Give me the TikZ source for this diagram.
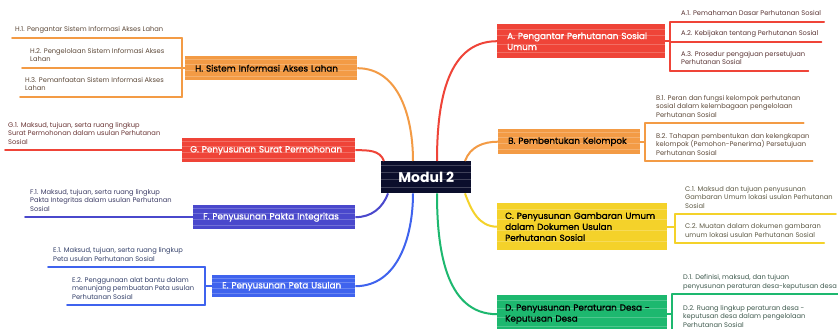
\documentclass[tikz,border=0pt]{standalone}
\usepackage{fontspec}
\setmainfont{Poppins}
\newfontfamily\brfont[FakeBold=1.2]{Poppins}
\usetikzlibrary{calc}
\definecolor{cred}{HTML}{EF4438}
\definecolor{corange}{HTML}{F39B45}
\definecolor{cyellow}{HTML}{F4D22A}
\definecolor{cgreen}{HTML}{1DB86F}
\definecolor{cblue}{HTML}{3F63EE}
\definecolor{cindigo}{HTML}{4A48CC}
\definecolor{cnavy}{HTML}{0B0E2C}
\definecolor{tA}{HTML}{5B3535}
\definecolor{tB}{HTML}{5E4A3A}
\definecolor{tC}{HTML}{5E5A45}
\definecolor{tD}{HTML}{3F5A4E}
\definecolor{tG}{HTML}{6A3535}
\definecolor{tF}{HTML}{3D3D66}
\definecolor{tE}{HTML}{34406A}
\tikzset{
  streaks/.style={path picture={
    \foreach \f in {0.18,0.42,0.66,0.86}{
      \draw[white,opacity=.22,line width=.6pt]
        ($(path picture bounding box.south west)!\f!(path picture bounding box.north west)$) -- ++(220,0);}}},
  branch/.style={anchor=north west, fill=#1, streaks, inner xsep=10pt, inner ysep=0pt,
    align=left, font=\fontsize{8.8}{11}\brfont},
  sub/.style={anchor=south west, inner xsep=0pt, inner ysep=4pt, align=left,
    text depth=1.8pt, font=\fontsize{6.7}{8.5}\selectfont, text=#1},
  ln/.style={draw=#1, line width=1.6pt, line cap=round},
  curve/.style={draw=#1, line width=2pt},
}
\begin{document}
\begin{tikzpicture}[x=1pt,y=-1pt]
\useasboundingbox[fill=white] (0,0) rectangle (838,329);

% centre
\node[fill=cnavy, streaks, anchor=north west, minimum width=90pt, minimum height=32pt,
  text=white, font=\fontsize{14}{16}\selectfont\bfseries] (M) at (381,161) {Modul 2};

% branch boxes
\node[branch=cred, text=white, text width=148pt, minimum height=34pt] (A) at (497,24)
  {A. Pengantar Perhutanan Sosial\\Umum};
\node[branch=corange, text=black, text width=122pt, minimum height=25pt] (B) at (498,129)
  {B. Pembentukan Kelompok};
\node[branch=cyellow, text=black, inner xsep=8pt, text width=154pt, minimum height=47pt] (C) at (497,203)
  {C. Penyusunan Gambaran Umum\\dalam Dokumen Usulan\\Perhutanan Sosial};
\node[branch=cgreen, text=black, inner xsep=8pt, text width=154pt, minimum height=38pt] (D) at (497,295)
  {D. Penyusunan Peraturan Desa -\\Keputusan Desa};
\node[branch=corange, text=black, text width=152pt, minimum height=24pt] (H) at (185,56)
  {H. Sistem Informasi Akses Lahan};
\node[branch=cred, text=white, inner xsep=8pt, text width=157pt, minimum height=24pt] (G) at (182,138)
  {G. Penyusunan Surat Permohonan};
\node[branch=cindigo, text=white, text width=142pt, minimum height=24pt] (F) at (193,205)
  {F. Penyusunan Pakta Integritas};
\node[branch=cblue, text=white, text width=123pt, minimum height=22pt] (E) at (212,275)
  {E. Penyusunan Peta Usulan};

% curves from centre
\draw[curve=corange] ([xshift=32pt]M.north west) to[out=90,in=0] (H.east);
\draw[curve=cred] ([xshift=3pt]M.north west) to[out=110,in=0] (G.east);
\draw[curve=cred] ([xshift=56pt]M.north west) to[out=90,in=180] (A.west);
\draw[curve=corange] ([xshift=84pt]M.north west) to[out=70,in=180] (B.west);
\draw[curve=cindigo] ([xshift=7pt]M.south west) to[out=-110,in=0] (F.east);
\draw[curve=cblue] ([xshift=32pt]M.south west) to[out=-90,in=0] (E.east);
\draw[curve=cgreen] ([xshift=56pt]M.south west) to[out=-90,in=180] (D.west);
\draw[curve=cyellow] ([xshift=84pt]M.south west) to[out=-70,in=180] (C.west);

% ---- A subtopics
\node[sub=tA] (a1) at (681,22) {A.1. Pemahaman Dasar Perhutanan Sosial};
\node[sub=tA] (a2) at (681,42) {A.2. Kebijakan tentang Perhutanan Sosial};
\node[sub=tA] (a3) at (681,71) {A.3. Prosedur pengajuan persetujuan\\Perhutanan Sosial};
\coordinate (ab) at ([xshift=-11pt]a1.south west);
\foreach \n in {a1,a2,a3}{\draw[ln=cred] (\n.south west -| ab) -- ([xshift=3pt]\n.south east);}
\draw[ln=cred] (ab) -- (ab |- a3.south);
\draw[ln=cred] (A.east) -- (A.east -| ab);

% ---- B subtopics
\node[sub=tB] (b1) at (656,123) {B.1. Peran dan fungsi kelompok perhutanan\\sosial dalam kelembagaan pengelolaan\\Perhutanan Sosial};
\node[sub=tB] (b2) at (656,161) {B.2. Tahapan pembentukan dan kelengkapan\\kelompok (Pemohon-Penerima) Persetujuan\\Perhutanan Sosial};
\coordinate (bb) at ([xshift=-11pt]b1.south west);
\foreach \n in {b1,b2}{\draw[ln=corange] (\n.south west -| bb) -- ([xshift=3pt]\n.south east);}
\draw[ln=corange] (bb) -- (bb |- b2.south);
\draw[ln=corange] (B.east) -- (B.east -| bb);

% ---- C subtopics
\node[sub=tC] (c1) at (685,214) {C.1. Maksud dan tujuan penyusunan\\Gambaran Umum lokasi usulan Perhutanan\\Sosial};
\node[sub=tC] (c2) at (685,243) {C.2. Muatan dalam dokumen gambaran\\umum lokasi usulan Perhutanan Sosial};
\coordinate (cb) at ([xshift=-10pt]c1.south west);
\foreach \n in {c1,c2}{\draw[ln=cyellow] (\n.south west -| cb) -- ([xshift=3pt]\n.south east);}
\draw[ln=cyellow] (cb) -- (cb |- c2.south);
\draw[ln=cyellow] (C.east) -- (C.east -| cb);

% ---- D subtopics
\node[sub=tD] (d1) at (683,294) {D.1. Definisi, maksud, dan tujuan\\penyusunan peraturan desa-keputusan desa};
\node[sub=tD] (d2) at (683,333) {D.2. Ruang lingkup peraturan desa -\\keputusan desa dalam pengelolaan\\Perhutanan Sosial};
\coordinate (db) at ([xshift=-11pt]d1.south west);
\foreach \n in {d1,d2}{\draw[ln=cgreen] (\n.south west -| db) -- ([xshift=3pt]\n.south east);}
\draw[ln=cgreen] (db) -- (db |- d2.south);
\draw[ln=cgreen] (D.east) -- (D.east -| db);

% ---- H subtopics
\node[sub=tB] (h1) at (15,38) {H.1. Pengantar Sistem Informasi Akses Lahan};
\node[sub=tB] (h2) at (30,68) {H.2. Pengelolaan Sistem Informasi Akses\\Lahan};
\node[sub=tB] (h3) at (25,97) {H.3. Pemanfaatan Sistem Informasi Akses\\Lahan};
\coordinate (hb) at ([xshift=-3pt]H.west);
\draw[ln=corange] ([xshift=-3pt]h1.south west) -- (h1.south west -| hb);
\draw[ln=corange] ([xshift=-8pt]h2.south west) -- (h2.south west -| hb);
\draw[ln=corange] ([xshift=-5pt]h3.south west) -- (h3.south west -| hb);
\draw[ln=corange] (h1.south west -| hb) -- (h3.south west -| hb);
\draw[ln=corange] (H.west) -- (hb);

% ---- G subtopic
\node[sub=tG] (g1) at (8,150) {G.1. Maksud, tujuan, serta ruang lingkup\\Surat Permohonan dalam usulan Perhutanan\\Sosial};
\draw[ln=cred] ([xshift=-3pt]g1.south west) -- (g1.south west -| G.west);

% ---- F subtopic
\node[sub=tF] (f1) at (30,217) {F.1. Maksud, tujuan, serta ruang lingkup\\Pakta Integritas dalam usulan Perhutanan\\Sosial};
\draw[ln=cindigo] ([xshift=-5pt]f1.south west) -- (f1.south west -| F.west);

% ---- E subtopics
\node[sub=tE] (e1) at (53,267) {E.1. Maksud, tujuan, serta ruang lingkup\\Peta usulan Perhutanan Sosial};
\node[sub=tE] (e2) at (72,305) {E.2. Penggunaan alat bantu dalam\\menunjang pembuatan Peta usulan\\Perhutanan Sosial};
\coordinate (eb) at ([xshift=-7pt]E.west);
\draw[ln=cblue] ([xshift=-5pt]e1.south west) -- (e1.south west -| eb);
\draw[ln=cblue] ([xshift=-5pt]e2.south west) -- (e2.south west -| eb);
\draw[ln=cblue] (e1.south west -| eb) -- (e2.south west -| eb);
\draw[ln=cblue] (E.west) -- (eb);
\end{tikzpicture}
\end{document}
